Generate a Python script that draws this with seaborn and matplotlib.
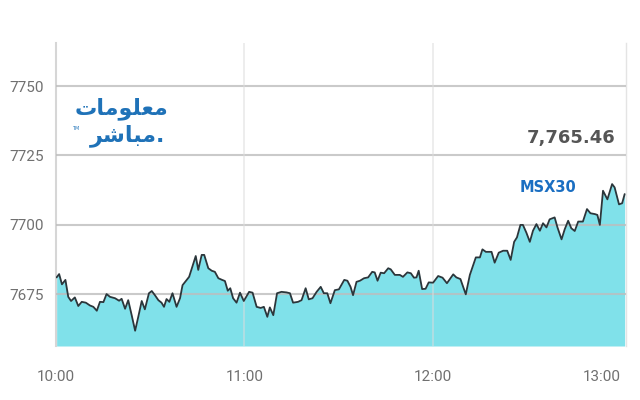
import matplotlib
matplotlib.use('Agg')
import matplotlib.pyplot as plt
import seaborn as sns
import pandas as pd

# minutes after 10:00 and index level
minutes = [0.2, 1.0, 1.9, 3.0, 3.9, 4.8, 6.0, 7.1, 8.2, 9.5, 10.8, 11.9, 13.0, 14.0, 15.1,
           16.1, 17.2, 18.8, 20.1, 20.9, 22.0, 23.0, 24.1, 25.2, 26.2, 27.3, 28.3, 29.6,
           30.5, 31.5, 32.6, 33.6, 34.4, 35.2, 36.1, 37.1, 38.4, 39.5, 40.3, 41.4, 42.4,
           43.4, 44.5, 45.3, 46.4, 47.2, 48.5, 49.6, 50.6, 51.7, 52.9, 53.8, 54.7, 55.5,
           56.4, 57.5, 58.6, 59.8, 61.5, 62.6, 63.9, 65.2, 66.2, 67.3, 68.1, 69.2, 70.4,
           71.8, 73.4, 74.5, 75.5, 77.1, 78.2, 79.5, 80.5, 81.7, 83.0, 84.3, 85.3, 86.4,
           87.4, 88.8, 90.1, 91.8, 92.8, 93.8, 94.6, 95.7, 96.8, 98.1, 99.4, 100.7, 101.5,
           102.4, 103.4, 104.5, 105.8, 106.6, 107.9, 109.5, 110.5, 111.9, 113.0, 114.0,
           114.8, 115.5, 116.6, 117.7, 118.7, 120.1, 121.7, 123.1, 124.5, 126.5, 127.5,
           128.8, 130.5, 131.8, 133.7, 135.0, 135.8, 136.9, 138.7, 139.7, 141.0, 142.4,
           143.7, 144.8, 145.9, 146.8, 147.9, 148.7, 149.8, 150.9, 151.9, 153.0, 154.1,
           155.1, 156.2, 157.2, 158.8, 159.7, 161.0, 162.0, 163.1, 164.1, 165.2, 166.3,
           167.8, 169.1, 170.2, 171.6, 172.4, 173.2, 174.2, 175.6, 177.1, 177.9, 179.3,
           180.3, 181.1]
values = [7681.1, 7682.3, 7678.6, 7680.2, 7674.1, 7672.6, 7673.9, 7670.8, 7672.3, 7672.0,
          7671.0, 7670.5, 7669.1, 7672.3, 7672.2, 7675.1, 7674.1, 7673.6, 7672.7, 7673.4,
          7669.8, 7672.9, 7667.5, 7661.9, 7666.9, 7672.6, 7669.6, 7675.4, 7676.2, 7674.7,
          7672.9, 7672.0, 7670.5, 7673.3, 7672.3, 7675.4, 7670.5, 7673.6, 7678.3, 7679.9,
          7681.3, 7684.9, 7688.8, 7683.8, 7689.2, 7689.2, 7684.4, 7683.5, 7683.1, 7680.8,
          7680.2, 7679.8, 7676.3, 7677.2, 7673.6, 7672.0, 7675.6, 7672.6, 7675.9, 7675.6,
          7670.5, 7670.1, 7670.5, 7666.9, 7670.3, 7667.5, 7675.4, 7675.9, 7675.7, 7675.4,
          7672.0, 7672.3, 7672.9, 7677.2, 7673.2, 7673.6, 7675.9, 7677.7, 7675.4, 7675.4,
          7671.8, 7676.5, 7676.8, 7680.2, 7679.9, 7677.7, 7674.7, 7679.5, 7679.9, 7680.8,
          7681.1, 7683.1, 7682.9, 7679.9, 7682.8, 7682.6, 7684.4, 7684.0, 7682.0, 7682.0,
          7681.3, 7682.9, 7682.6, 7681.0, 7681.1, 7683.5, 7676.9, 7677.0, 7679.3, 7679.2,
          7681.6, 7681.0, 7679.0, 7682.2, 7681.1, 7680.5, 7675.0, 7682.0, 7688.3, 7688.3,
          7691.2, 7690.3, 7690.3, 7686.4, 7690.0, 7690.7, 7690.7, 7687.4, 7693.9, 7695.5,
          7700.0, 7700.0, 7697.2, 7693.9, 7697.9, 7700.3, 7697.9, 7700.6, 7699.1, 7702.0,
          7702.7, 7699.1, 7694.8, 7698.4, 7701.5, 7698.8, 7697.8, 7701.2, 7701.2, 7705.7,
          7704.2, 7703.9, 7703.6, 7700.0, 7712.3, 7709.2, 7714.7, 7713.5, 7707.4, 7707.8,
          7711.1]

y_ticks = [7675, 7700, 7725, 7750]
x_ticks = [0, 60, 120, 180]
x_labels = ['10:00', '11:00', '12:00', '13:00']

last_value = '7,765.46'
index_name = 'MSX30'
# logo words, Arabic presentation forms in visual order
logo_top = '\ufe95\ufe8e\ufee3\ufeee\ufee0\ufecc\ufee3'   # معلومات
logo_bottom = '\ufeae\ufeb7\ufe8e\ufe92\ufee3.'            # مباشر with the dot on the right

df = pd.DataFrame({'minute': minutes, 'value': values})

sns.set_style('white')
plt.rcParams['font.family'] = ['Liberation Sans Narrow', 'Roboto', 'DejaVu Sans']

fig = plt.figure(figsize=(6.4, 4.0), dpi=100)
ax = fig.add_axes([0.0875, 0.135, 0.891, 0.7575])

y_min, y_max = 7656.4, 7765.5
ax.fill_between(df['minute'], df['value'], y_min, color='#80e1ea', linewidth=0, zorder=1)
sns.lineplot(data=df, x='minute', y='value', ax=ax, color='#2b363b', linewidth=1.3, zorder=4)

# grid drawn over the fill
for t in y_ticks:
    ax.axhline(t, color='#bdbdbd', linewidth=1.5, alpha=0.8, zorder=3)
for t in [60, 120]:
    ax.axvline(t, color='#dddddd', linewidth=1.2, alpha=0.6, zorder=3)

ax.set_xlim(0, 181.6)
ax.set_ylim(y_min, y_max)
ax.set_yticks(y_ticks)
ax.set_yticklabels([str(t) for t in y_ticks])
ax.set_xticks(x_ticks)
ax.set_xticklabels(x_labels)
ax.tick_params(axis='y', length=0, pad=9, labelsize=11, labelcolor='#707070')
ax.tick_params(axis='x', length=0, pad=17, labelsize=11, labelcolor='#707070')
ax.get_xticklabels()[-1].set_horizontalalignment('right')
ax.get_xticklabels()[-1].set_x(181.6)
ax.set_xlabel('')
ax.set_ylabel('')

for side in ['top', 'bottom']:
    ax.spines[side].set_visible(False)
ax.spines['left'].set_color('#d6d6d6')
ax.spines['left'].set_linewidth(1.5)
ax.spines['right'].set_color('#e4e4e4')
ax.spines['right'].set_linewidth(1.0)

fig.text(0.962, 0.655, last_value, ha='right', va='center', fontsize=13,
         fontweight='bold', color='#555555', family='DejaVu Sans')
fig.text(0.856, 0.53, index_name, ha='center', va='center', fontsize=10.5,
         fontweight='bold', color='#1b6fc2', family='DejaVu Sans')

# logo
fig.text(0.263, 0.728, logo_top, ha='right', va='center', fontsize=16,
         fontweight='bold', color='#1f72b8', family='DejaVu Sans')
fig.text(0.258, 0.662, logo_bottom, ha='right', va='center', fontsize=16,
         fontweight='bold', color='#1f72b8', family='DejaVu Sans')
fig.text(0.113, 0.68, 'TM', ha='left', va='center', fontsize=3.5,
         color='#1f72b8', family='DejaVu Sans')

fig.savefig('out.png', dpi=100)
